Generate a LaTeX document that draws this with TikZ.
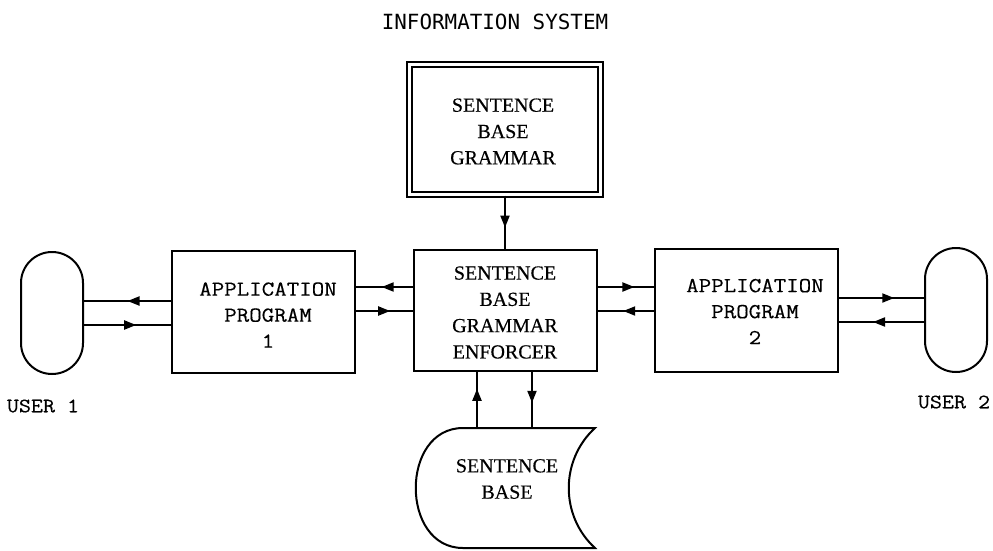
\documentclass[tikz,border=0pt]{standalone}
\usepackage{fontspec}
\usetikzlibrary{arrows.meta,decorations.markings}
\newfontfamily\monofnt[FakeStretch=1.14,FakeBold=0.35]{Latin Modern Mono}
\newfontfamily\serfnt[FakeBold=0.3]{Liberation Serif}
\newfontfamily\titlefnt{DejaVu Sans Mono}
\tikzset{
  ln/.style={line width=2pt},
  boxnode/.style={draw, ln, rectangle, inner sep=0pt, align=center},
  apptext/.style={font=\monofnt\fontsize{21.3}{26}\selectfont, align=center, inner sep=0pt},
  sertext/.style={font=\serfnt\fontsize{20}{26.3}\selectfont, align=center, inner sep=0pt},
  usertext/.style={font=\monofnt\fontsize{20.5}{24}\selectfont, inner sep=0pt},
  midarrow/.style={ln, postaction={decorate}, decoration={markings,
      mark=at position #1 with {\arrow{Triangle[length=12pt,width=9pt]}}}},
  midarrow/.default=0.55
}
\begin{document}
\begin{tikzpicture}[x=1pt,y=-1pt]
\useasboundingbox (0,0) rectangle (993,550);
\fill[white] (0,0) rectangle (993,550);

% title
\node[font=\titlefnt\fontsize{20.9}{24}\selectfont, inner sep=0pt] (title) at (495,21.5) {INFORMATION SYSTEM};

% grammar box (double border)
\node[draw, line width=2pt, double, double distance=2.5pt, minimum width=191pt, minimum height=130pt, inner sep=0pt] (gram) at (505,129.5) {};
\node[sertext] (gramtxt) at (503,131.5) {SENTENCE\\BASE\\GRAMMAR};

% enforcer
\node[boxnode, minimum width=183pt, minimum height=121pt] (enf) at (505.5,310.5) {};
\node[sertext] (enftxt) at (505,312.5) {SENTENCE\\BASE\\GRAMMAR\\ENFORCER};

% application programs
\node[boxnode, minimum width=183pt, minimum height=122pt] (app1) at (263.5,312) {};
\node[apptext] (app1txt) at (268,315) {APPLICATION\\PROGRAM\\1};
\node[boxnode, minimum width=183pt, minimum height=123pt] (app2) at (746.5,310.5) {};
\node[apptext] (app2txt) at (755,311.5) {APPLICATION\\PROGRAM\\2};

% users (capsules)
\node[draw, ln, rounded corners=31pt, minimum width=62pt, minimum height=122pt, inner sep=0pt] (user1) at (52,313) {};
\node[draw, ln, rounded corners=31pt, minimum width=62pt, minimum height=124pt, inner sep=0pt] (user2) at (956,310) {};
\node[usertext] (u1txt) at (43,406) {USER 1};
\node[usertext] (u2txt) at (954,402) {USER 2};

% sentence base (stored data shape)
\draw[ln] (463,428) -- (595,428) .. controls (560,460) and (560,516) .. (595,548)
  -- (463,548) .. controls (400,548) and (400,428) .. (463,428) -- cycle;
\coordinate (sbtop) at (505,428);
\node[sertext] (sbtxt) at (507,479) {SENTENCE\\BASE};

% connectors
\draw[midarrow=0.6] (gram.south) -- (gram.south |- enf.north);

\coordinate (u1a) at (user1.east |- 0,301);
\coordinate (u1b) at (user1.east |- 0,325);
\draw[midarrow=0.5] (app1.west |- u1a) -- (u1a);
\draw[midarrow=0.6] (u1b) -- (app1.west |- u1b);

\coordinate (e1a) at (enf.west |- 0,287);
\coordinate (e1b) at (enf.west |- 0,311);
\draw[midarrow=0.55] (e1a) -- (app1.east |- e1a);
\draw[midarrow=0.6] (app1.east |- e1b) -- (e1b);

\coordinate (e2a) at (enf.east |- 0,287);
\coordinate (e2b) at (enf.east |- 0,311);
\draw[midarrow=0.65] (e2a) -- (app2.west |- e2a);
\draw[midarrow=0.55] (app2.west |- e2b) -- (e2b);

\coordinate (u2a) at (user2.west |- 0,298);
\coordinate (u2b) at (user2.west |- 0,322);
\draw[midarrow=0.65] (app2.east |- u2a) -- (u2a);
\draw[midarrow=0.6] (u2b) -- (app2.east |- u2b);

\coordinate (sbl) at (477,428);
\coordinate (sbr) at (532,428);
\draw[midarrow=0.7] (sbl) -- (enf.south -| sbl);
\draw[midarrow=0.55] (enf.south -| sbr) -- (sbr);
\end{tikzpicture}
\end{document}
